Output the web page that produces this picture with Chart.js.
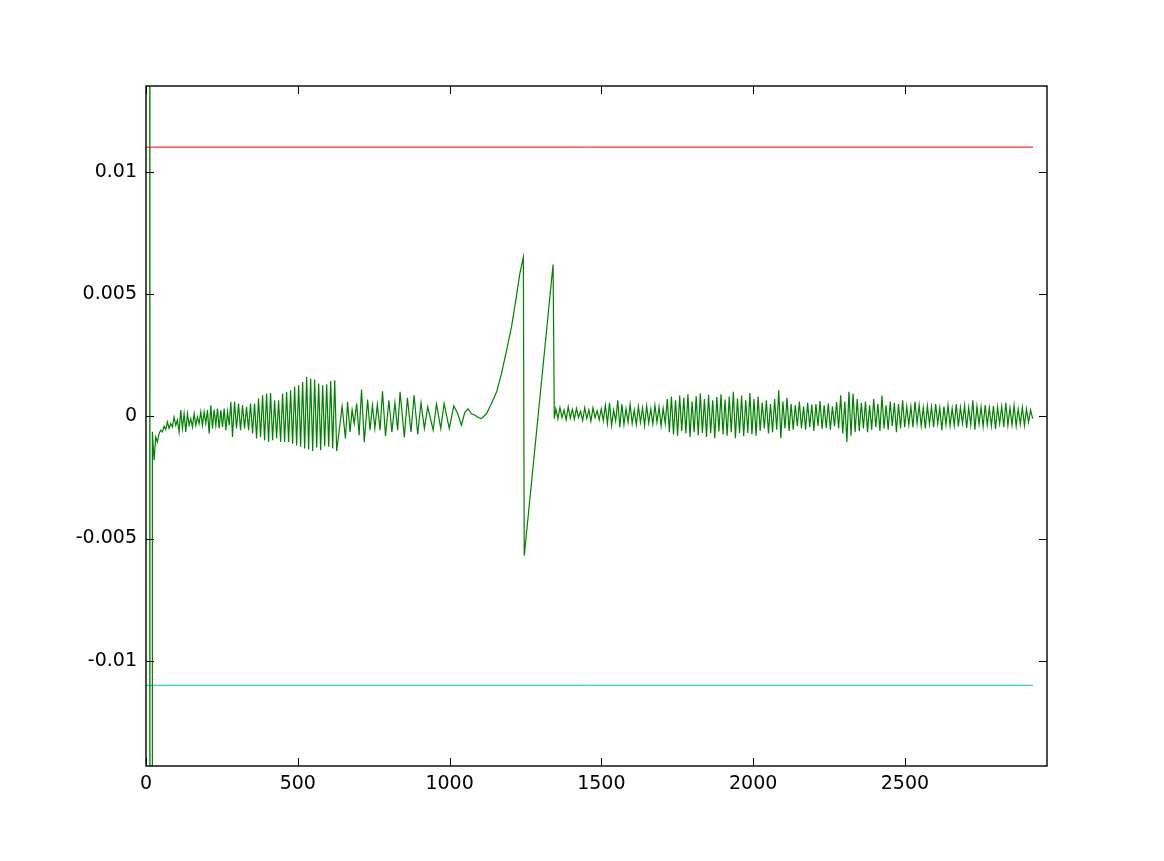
<!DOCTYPE html>
<html>
<head>
<meta charset="utf-8">
<script src="https://cdn.jsdelivr.net/npm/chart.js@4.4.0/dist/chart.umd.min.js"></script>
<style>
  html, body { margin: 0; padding: 0; background: #fff; }
  #wrap { width: 1164px; height: 861px; }
</style>
</head>
<body>
<div id="wrap"><canvas id="chart" width="1164" height="861"></canvas></div>
<script>
// axis ticks
const xTicks = [0, 500, 1000, 1500, 2000, 2500];
const yTicks = [-0.01, -0.005, 0, 0.005, 0.01];
const yTickLabels = ['-0.01', '-0.005', '0', '0.005', '0.01'];

// limit lines
const upperLimit = 0.011;
const lowerLimit = -0.011;
const limitSpan = [0, 2922];

// signal, all values in units of 1e-4
// start-up spike (goes off the plot both ways)
const spikeX = [12, 13, 20];
const spikeY = [500, -500, -500];

// settling part, sampled every 5.5 from x=21
const waveA = [-6.4, -18, -8.5, -10.5, -7.1, -5.7, -6.4, -4.1, -5.5, -2.3,
  -5.0, -3.0, -4.4, -0.3, -3.7, -1.6, -6.4, 2.5, -5.0, 1.1,
  -6.4, 1.1, -3.7, -1.0, -4.4, 1.1, -3.7, -0.3, -3.0, 1.8,
  -3.7, 1.8, -3.0, 2.5, -7.1, 4.5, -5.0, 2.7, -3.7, 3.1,
  -5.0, 2.5, -4.4, 3.1, -5.7, 1.8, -3.7, 5.9];

// growing oscillation, sampled every 6.6 from x=285
const waveB = [-8.5, 5.9, -5.0, 5.2, -5.7, 4.5, -5.0, 3.8, -5.7, 5.2,
  -7.1, 5.2, -9.1, 7.2, -8.5, 8.6, -9.8, 9.3, -10.5, 9.5,
  -9.8, 6.5, -9.1, 6.5, -10.5, 9.3, -10.5, 9.9, -10.5, 10.6,
  -11.2, 12.0, -11.9, 12.7, -12.5, 14.0, -13.2, 16.0, -13.6, 15.4,
  -14.2, 15.0, -12.8, 13.4, -13.9, 12.7, -12.3, 13.1, -12.5, 14.4,
  -13.2, 14.7, -14.2];

// slower ringing after the burst
const ringX = [646, 657, 664, 672, 679, 686, 694, 702, 710, 719,
  730, 738, 746, 754, 762, 771, 779, 789, 800, 810,
  820, 829, 837, 851, 861, 873, 883, 895, 906, 917,
  928, 946, 957, 971, 982, 999, 1014, 1027, 1039, 1050,
  1061, 1072, 1083, 1094, 1105];
const ringY = [4.0, -9.1, 5.9, -6.4, 2.5, -3.0, 5.2, -7.8, 10.9, -10.6,
  6.8, -5.7, 4.5, -5.0, 4.8, -5.7, 10.2, -8.2, 6.5, -6.4,
  5.5, -5.7, 10.0, -8.7, 7.5, -6.4, 8.6, -7.4, 5.5, -5.0,
  3.8, -5.7, 5.0, -5.0, 5.2, -5.0, 4.2, 1.0, -3.7, 1.5,
  3.1, 1.0, 0.5, -0.5, -1.0];

// ramp, drop and sawtooth
const rampX = [1122, 1138, 1155, 1171, 1188, 1204, 1220, 1231, 1243, 1246, 1341, 1345];
const rampY = [1.1, 5.2, 10, 17.4, 27, 36.5, 48.8, 58, 65, -57, 62, -1.0];

// tail noise, sampled every 6.8 from x=1350
const tail = [3.0, -1.0, 3.5, -0.5, 2.5, -1.5, 3.8, -0.8, 2.8, -1.2,
  3.2, -0.5, 2.0, -1.8, 3.5, -1.0, 2.6, -2.0, 3.4, -0.6,
  2.2, -1.5, 3.0, -1.8, 4.5, -3.0, 5.5, -3.8, 2.5, -2.0,
  6.5, -4.5, 5.0, -3.5, 3.0, -2.5, 4.8, -3.0, 2.5, -3.5,
  4.0, -2.5, 3.5, -3.8, 4.2, -2.8, 3.0, -3.2, 4.5, -2.5,
  3.8, -4.0, 3.2, -3.0, 7.0, -6.5, 8.0, -7.5, 6.5, -8.0,
  8.5, -6.0, 7.5, -7.0, 9.0, -8.5, 6.0, -6.5, 8.2, -7.8,
  9.3, -6.8, 7.0, -8.5, 8.8, -7.0, 6.5, -9.0, 7.8, -6.2,
  9.0, -7.5, 6.8, -8.0, 8.0, -6.5, 10.0, -9.0, 7.2, -7.0,
  8.5, -8.2, 6.5, -6.8, 9.5, -7.5, 7.0, -8.0, 8.0, -6.0,
  5.5, -5.0, 6.5, -7.0, 5.0, -6.5, 7.0, -5.5, 10.6, -9.0,
  6.0, -5.0, 7.5, -6.0, 5.0, -5.5, 4.5, -4.0, 6.0, -5.0,
  4.0, -5.5, 5.5, -4.5, 4.8, -6.0, 5.0, -4.0, 6.2, -5.2,
  4.5, -4.8, 5.2, -5.5, 4.0, -4.2, 5.8, -5.0, 8.6, -7.0,
  6.0, -10.5, 10.0, -8.0, 9.3, -6.5, 7.0, -6.0, 5.5, -5.0,
  6.0, -6.5, 4.5, -5.5, 7.0, -4.5, 5.0, -6.0, 8.5, -5.0,
  4.5, -5.5, 6.0, -4.0, 5.5, -6.5, 5.0, -5.0, 6.5, -4.5,
  4.0, -3.5, 4.0, -4.5, 6.0, -3.0, 4.5, -4.0, 3.5, -5.0,
  4.2, -3.2, 3.8, -4.5, 5.0, -3.0, 3.5, -5.7, 4.0, -3.5,
  4.5, -4.0, 3.2, -3.8, 5.0, -4.2, 3.6, -3.0, 4.4, -4.8,
  3.5, -3.5, 6.5, -5.5, 4.0, -3.2, 3.8, -4.2, 4.6, -3.6,
  3.5, -4.0, 4.2, -5.2, 3.8, -3.0, 4.0, -4.4, 5.5, -3.8,
  3.4, -3.6, 4.4, -4.0, 3.0, -3.2, 3.6, -3.8, 3.0, -2.5,
  2.5, -1.0];

function sampled(start, step, values) {
  return values.map((v, i) => ({ x: start + i * step, y: v * 1e-4 }));
}
function paired(xs, ys) {
  return xs.map((x, i) => ({ x: x, y: ys[i] * 1e-4 }));
}

const signal = [].concat(
  paired(spikeX, spikeY),
  sampled(21, 5.5, waveA),
  sampled(285, 6.6, waveB),
  paired(ringX, ringY),
  paired(rampX, rampY),
  sampled(1350, 6.8, tail)
);

const tickFont = { family: 'DejaVu Sans', size: 19 };

// box around the plot with inward ticks on every side
const framePlugin = {
  id: 'frame',
  afterDatasetsDraw(chart) {
    const { ctx, chartArea: a, scales } = chart;
    const len = 8;
    ctx.save();
    ctx.strokeStyle = '#000';
    ctx.lineWidth = 1;
    ctx.beginPath();
    xTicks.forEach(v => {
      const px = Math.round(scales.x.getPixelForValue(v)) + 0.5;
      ctx.moveTo(px, a.bottom); ctx.lineTo(px, a.bottom - len);
      ctx.moveTo(px, a.top); ctx.lineTo(px, a.top + len);
    });
    yTicks.forEach(v => {
      const py = Math.round(scales.y.getPixelForValue(v)) + 0.5;
      ctx.moveTo(a.left, py); ctx.lineTo(a.left + len, py);
      ctx.moveTo(a.right, py); ctx.lineTo(a.right - len, py);
    });
    ctx.stroke();
    ctx.lineWidth = 1.4;
    ctx.strokeRect(a.left, a.top, a.right - a.left, a.bottom - a.top);
    ctx.restore();
  }
};

new Chart(document.getElementById('chart'), {
  type: 'line',
  data: {
    datasets: [
      {
        data: signal,
        borderColor: '#008000',
        borderWidth: 1.2,
        pointRadius: 0,
        fill: false
      },
      {
        data: limitSpan.map(x => ({ x: x, y: upperLimit })),
        borderColor: '#ff0000',
        borderWidth: 1,
        pointRadius: 0
      },
      {
        data: limitSpan.map(x => ({ x: x, y: lowerLimit })),
        borderColor: '#00bfbf',
        borderWidth: 1,
        pointRadius: 0
      }
    ]
  },
  options: {
    responsive: false,
    animation: false,
    layout: { padding: { top: 86, right: 117, left: 0, bottom: 0 } },
    plugins: {
      legend: { display: false },
      tooltip: { enabled: false }
    },
    scales: {
      x: {
        type: 'linear',
        min: 0,
        max: 2968,
        afterBuildTicks: s => { s.ticks = xTicks.map(v => ({ value: v })); },
        afterFit: s => { s.height = 95; },
        grid: { display: false, drawTicks: false },
        border: { display: false },
        ticks: {
          font: tickFont,
          color: '#000',
          padding: 7,
          maxRotation: 0,
          callback: v => String(v)
        }
      },
      y: {
        type: 'linear',
        min: -0.0143,
        max: 0.0135,
        afterBuildTicks: s => { s.ticks = yTicks.map(v => ({ value: v })); },
        afterFit: s => { s.width = 146; },
        grid: { display: false, drawTicks: false },
        border: { display: false },
        ticks: {
          font: tickFont,
          color: '#000',
          padding: 9,
          callback: (v, i) => yTickLabels[i]
        }
      }
    }
  },
  plugins: [framePlugin]
});
</script>
</body>
</html>
